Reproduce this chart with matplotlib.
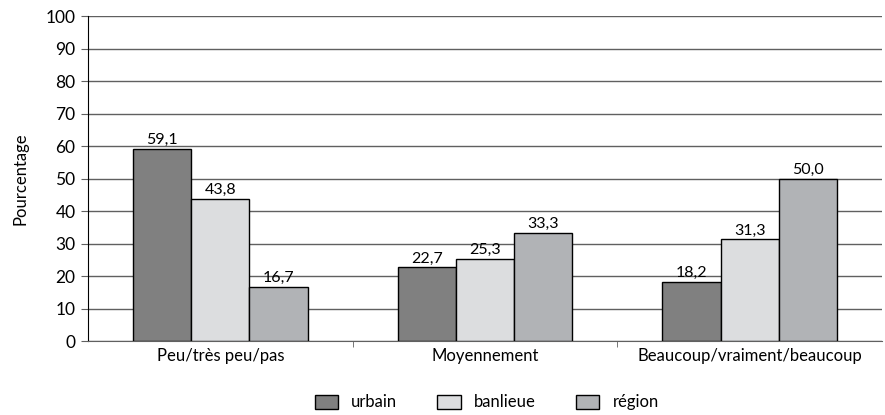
import matplotlib.pyplot as plt
import numpy as np

categories = ["Peu/très peu/pas", "Moyennement", "Beaucoup/vraiment/beaucoup"]
series = ["urbain", "banlieue", "région"]
urbain = [59.1, 22.7, 18.2]
banlieue = [43.8, 25.3, 31.3]
region = [16.7, 33.3, 50.0]
colors = ["#808080", "#dcdddf", "#b1b3b6"]

plt.rcParams['font.family'] = ['Lato', 'DejaVu Sans']

fig = plt.figure(figsize=(8.85, 4.15), dpi=100)
ax = fig.add_axes([0.0994, 0.178, 0.8972, 0.783])

x = np.arange(len(categories))
w = 0.22
for i, (name, vals) in enumerate(zip(series, [urbain, banlieue, region])):
    bars = ax.bar(x + (i - 1) * w, vals, w, color=colors[i], edgecolor="black",
                  linewidth=1, label=name, zorder=3)
    for b, v in zip(bars, vals):
        ax.text(b.get_x() + b.get_width() / 2, v + 0.6, f"{v:.1f}".replace(".", ","),
                ha="center", va="bottom", fontsize=11.5, zorder=4)

ax.set_xlim(-0.5, 2.5)
ax.set_ylim(0, 100)
ax.set_yticks(range(0, 101, 10))
ax.yaxis.grid(True, color="#606060", linewidth=1, zorder=0)
ax.set_xticks(x)
ax.set_xticklabels(categories, fontsize=12)
ax.set_xticks([0.5, 1.5], minor=True)
ax.tick_params(axis="x", which="major", length=0, pad=5)
ax.tick_params(axis="x", which="minor", length=4, color="#606060")
ax.tick_params(axis="y", length=5, color="#606060", labelsize=12.5, pad=4)
for s in ["top", "right"]:
    ax.spines[s].set_visible(False)
ax.spines["bottom"].set_color("#606060")
ax.spines["left"].set_color("black")
ax.set_ylabel("Pourcentage", fontsize=12, labelpad=12)

fig.legend(loc="lower center", bbox_to_anchor=(0.55, -0.025), ncol=3, frameon=False,
           fontsize=12, handlelength=1.4, handleheight=0.9, columnspacing=2.4)

fig.savefig("out.png", dpi=100)
